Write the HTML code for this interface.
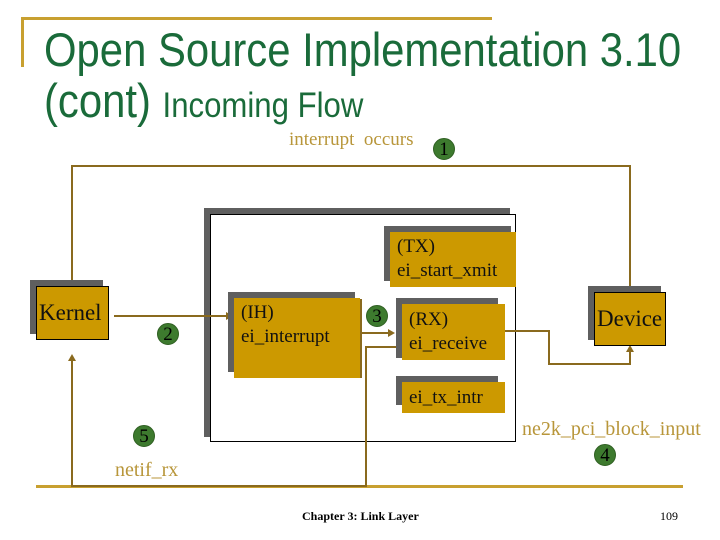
<!DOCTYPE html>
<html><head><meta charset="utf-8"><style>
body{margin:0;width:720px;height:540px;background:#fff;position:relative;overflow:hidden;font-family:"Liberation Serif",serif}
.a{position:absolute}
.sh{position:absolute;background:#5f5f5f}
.bx{position:absolute;background:#cc9900;color:#111;font-size:19px;line-height:24px;box-sizing:border-box;white-space:nowrap}
.bd{border:1px solid #000}
.g{position:absolute;width:22px;height:22px;border-radius:50%;background:#3d7a2e;border:1px solid #2f5f22;color:#000;font-size:19px;line-height:22px;text-align:center;box-sizing:border-box}
.gt{position:absolute;color:#b8963a;font-size:20px;white-space:nowrap}
.t{position:absolute;font-family:'Liberation Sans',sans-serif;color:#1a6b3a;white-space:nowrap;transform-origin:0 0;transform:scaleX(0.89)}
</style></head><body>
<div class="a" style="left:22px;top:17px;width:470px;height:3px;background:#c8a030"></div>
<div class="a" style="left:21px;top:17px;width:3px;height:50px;background:#c8a030"></div>
<div class="t" style="left:44px;top:24px;font-size:47px;line-height:52px">Open Source Implementation 3.10</div>
<div class="t" style="left:44px;top:75px;font-size:47px;line-height:52px">(cont) <span style="font-size:35px">Incoming Flow</span></div>
<div class="a" style="left:36px;top:485px;width:647px;height:3px;background:#c8a030"></div>

<div class="sh" style="left:204px;top:208px;width:306px;height:229px"></div>
<div class="a" style="left:210px;top:214px;width:306px;height:228px;background:#fff;border:1px solid #000;box-sizing:border-box"></div>

<svg class="a" style="left:0;top:0" width="720" height="540">
<g stroke="#8a6a1e" stroke-width="2" fill="none">
<polyline points="72,282 72,166 630,166 630,292"/>
<line x1="114" y1="316" x2="226" y2="316"/>
<line x1="361" y1="299" x2="361" y2="378"/>
<line x1="361" y1="333" x2="388" y2="333"/>
<polyline points="400,347 366,347 366,486 72,486 72,360"/>
<polyline points="505,331 549,331 549,364 630,364 630,350"/>
</g>
<g fill="#8a6a1e">
<polygon points="68,280 76,280 72,287"/>
<polygon points="226,312 226,320 233,316"/>
<polygon points="388,329 388,337 395,333"/>
<polygon points="68,361 76,361 72,354"/>
<polygon points="626,352 634,352 630,345"/>
</g>
</svg>

<div class="sh" style="left:30px;top:280px;width:73px;height:54px"></div>
<div class="bx bd" style="left:36px;top:286px;width:73px;height:54px;font-size:23px;padding:14px 0 0 2px">Kernel</div>
<div class="sh" style="left:228px;top:292px;width:127px;height:80px"></div>
<div class="bx" style="left:234px;top:298px;width:126px;height:80px;padding:3px 0 0 7px">(IH)<br>ei_interrupt</div>
<div class="sh" style="left:384px;top:226px;width:127px;height:55px"></div>
<div class="bx" style="left:390px;top:232px;width:126px;height:55px;padding:3px 0 0 7px">(TX)<br>ei_start_xmit</div>
<div class="sh" style="left:396px;top:298px;width:102px;height:60px"></div>
<div class="bx" style="left:402px;top:304px;width:103px;height:56px;padding:4px 0 0 7px">(RX)<br>ei_receive</div>
<div class="sh" style="left:396px;top:376px;width:102px;height:29px"></div>
<div class="bx" style="left:402px;top:382px;width:103px;height:31px;padding:4px 0 0 7px">ei_tx_intr</div>
<div class="sh" style="left:588px;top:286px;width:73px;height:54px"></div>
<div class="bx bd" style="left:594px;top:292px;width:72px;height:54px;font-size:23px;padding:14px 0 0 2px">Device</div>

<div class="g" style="left:433px;top:138px">1</div>
<div class="g" style="left:157px;top:323px">2</div>
<div class="g" style="left:366px;top:305px">3</div>
<div class="g" style="left:594px;top:444px">4</div>
<div class="g" style="left:133px;top:425px">5</div>

<div class="gt" style="left:289px;top:129px;font-size:19px">interrupt&nbsp; occurs</div>
<div class="gt" style="left:522px;top:418px">ne2k_pci_block_input</div>
<div class="gt" style="left:115px;top:459px">netif_rx</div>
<div class="a" style="left:302px;top:509px;font-size:12px;font-weight:bold;white-space:nowrap">Chapter 3: Link Layer</div>
<div class="a" style="left:660px;top:509px;font-size:12px;white-space:nowrap">109</div>
</body></html>
